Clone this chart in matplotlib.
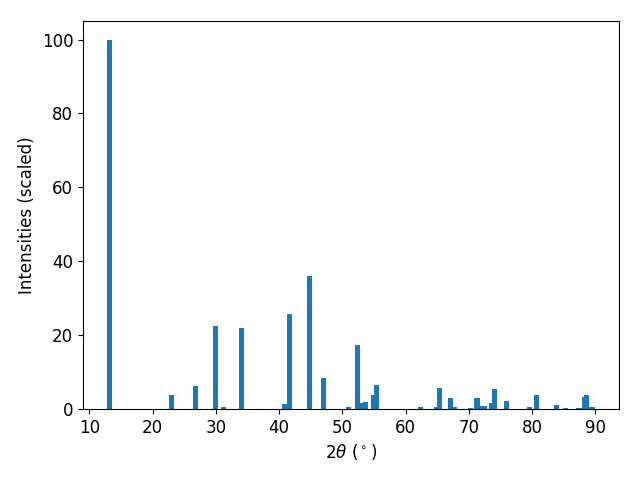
import matplotlib.pyplot as plt

#ピーク位置 (2theta) と強度
two_theta = [13.24, 23.04, 26.84, 30.0, 31.26, 34.1,
             40.8, 41.7, 44.86, 47.07, 51.03, 52.45, 53.1, 53.6, 54.98, 55.45,
             62.3, 64.9, 65.4, 67.15, 67.7, 70.2, 71.27, 72.0, 72.5, 73.5, 74.1, 76.0,
             79.6, 80.75, 83.9, 85.2, 87.4, 88.3, 88.65, 89.45]
intensity = [100, 3.8, 6.2, 22.5, 0.4, 22.0,
             1.4, 25.7, 36.0, 8.4, 0.5, 17.3, 1.6, 1.9, 3.8, 6.5,
             0.6, 0.6, 5.7, 3.0, 0.5, 0.3, 3.0, 0.9, 0.9, 1.7, 5.4, 2.2,
             0.5, 3.8, 1.1, 0.3, 0.3, 3.3, 3.8, 0.5]

plt.rcParams['font.size'] = 12

fig, ax = plt.subplots(figsize=(6.4, 4.8), dpi=100)
ax.bar(two_theta, intensity)

ax.set_xlabel(r'$2\theta$ ($^\circ$)')
ax.set_ylabel('Intensities (scaled)')

#余白を参照画像に合わせる
fig.subplots_adjust(left=0.1297, right=0.967, top=0.956, bottom=0.148)
fig.savefig('out.png')
